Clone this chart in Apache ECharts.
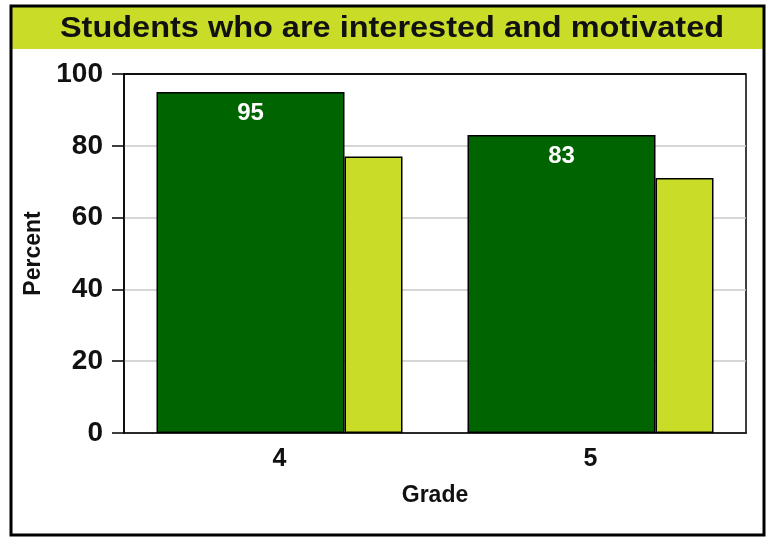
<!DOCTYPE html>
<html>
<head>
<meta charset="utf-8">
<script src="https://cdn.jsdelivr.net/npm/echarts@6/dist/echarts.min.js"></script>
<style>
  html, body { margin: 0; padding: 0; background: #fff; }
  #chart { width: 768px; height: 538px; }
</style>
</head>
<body>
<div id="chart"></div>
<script>
// chart data
const grades = ['4', '5'];
const studentValues = [95, 83];
const compareValues = [77, 71];
const yTicks = [0, 20, 40, 60, 80, 100];

const font = '"Liberation Sans", Arial, sans-serif';

// grid lines light gray, the top one (100) is part of the black frame
const splitColors = yTicks.map((v, i) => (i === yTicks.length - 1 ? '#000' : '#c8c8c8'));

let myChart = echarts.init(document.getElementById('chart'));
myChart.setOption({
  animation: false,
  textStyle: { fontFamily: font },
  graphic: [
    {
      type: 'rect',
      shape: { x: 11, y: 6, width: 753, height: 529 },
      style: { fill: 'none', stroke: '#000', lineWidth: 3 },
      z: 10
    },
    {
      type: 'rect',
      shape: { x: 12, y: 7, width: 751, height: 42 },
      style: { fill: '#c8dc28' },
      z: 0
    },
    {
      // title, stretched a little wider like the original
      type: 'text',
      x: 392,
      y: 29,
      scaleX: 1.12,
      style: {
        text: 'Students who are interested and motivated',
        fill: '#111',
        font: 'bold 29px ' + font,
        textAlign: 'center',
        textVerticalAlign: 'middle'
      },
      z: 5
    }
  ],
  grid: {
    left: 124,
    top: 74,
    right: 22,
    bottom: 105,
    show: true,
    borderColor: '#000',
    borderWidth: 1.5,
    backgroundColor: 'transparent'
  },
  xAxis: {
    type: 'category',
    data: grades,
    name: 'Grade',
    nameLocation: 'middle',
    nameGap: 51,
    nameTextStyle: { color: '#111', fontSize: 23, fontWeight: 'bold' },
    axisLine: { show: true, lineStyle: { color: '#000', width: 1.5 } },
    axisTick: { show: false },
    axisLabel: { color: '#111', fontSize: 25, fontWeight: 'bold', margin: 14 }
  },
  yAxis: {
    type: 'value',
    min: yTicks[0],
    max: yTicks[yTicks.length - 1],
    interval: yTicks[1] - yTicks[0],
    name: 'Percent',
    nameLocation: 'middle',
    nameGap: 79,
    nameTextStyle: { color: '#111', fontSize: 23, fontWeight: 'bold' },
    axisLine: { show: true, lineStyle: { color: '#000', width: 1.5 } },
    axisTick: { show: true, length: 12, lineStyle: { color: '#000', width: 1.5 } },
    axisLabel: { color: '#111', fontSize: 28, fontWeight: 'bold', margin: 21 },
    splitLine: { show: true, lineStyle: { color: splitColors, width: 1.5 } }
  },
  series: [
    {
      type: 'bar',
      data: studentValues,
      barWidth: 188,
      barGap: '0%',
      itemStyle: { color: '#006400', borderColor: '#000', borderWidth: 1.5 },
      label: {
        show: true,
        position: 'insideTop',
        distance: 9,
        color: '#fff',
        fontSize: 24,
        fontWeight: 'bold'
      }
    },
    {
      type: 'bar',
      data: compareValues,
      barWidth: 58,
      barGap: '0%',
      itemStyle: { color: '#c8dc28', borderColor: '#000', borderWidth: 1.5 }
    }
  ]
});
</script>
</body>
</html>
